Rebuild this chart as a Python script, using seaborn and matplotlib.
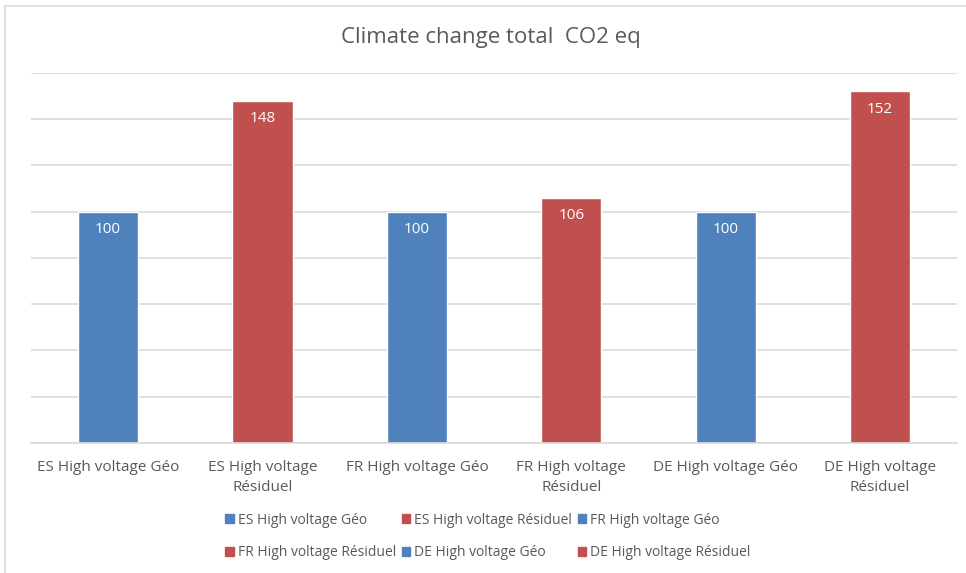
import matplotlib
matplotlib.use("Agg")
import matplotlib.pyplot as plt
import matplotlib.patches as mpatches
import seaborn as sns
import pandas as pd

categories = [
    "ES High voltage Géo",
    "ES High voltage Résiduel",
    "FR High voltage Géo",
    "FR High voltage Résiduel",
    "DE High voltage Géo",
    "DE High voltage Résiduel",
]
tick_labels = [
    "ES High voltage Géo",
    "ES High voltage\nRésiduel",
    "FR High voltage Géo",
    "FR High voltage\nRésiduel",
    "DE High voltage Géo",
    "DE High voltage\nRésiduel",
]
values = [100, 148, 100, 106, 100, 152]
colors = ["#4F81BD", "#C0504D", "#4F81BD", "#C0504D", "#4F81BD", "#C0504D"]

sns.set_theme(style="white")
plt.rcParams["font.family"] = ["Open Sans", "DejaVu Sans"]
text_color = "#595959"

df = pd.DataFrame({"category": categories, "value": values})

fig = plt.figure(figsize=(9.66, 5.73), dpi=100)
ax = fig.add_axes([0.032, 0.2269, 0.959, 0.6457])

sns.barplot(data=df, x="category", y="value", hue="category",
            palette=colors, order=categories, hue_order=categories,
            dodge=False, width=0.39, saturation=1, legend=False, ax=ax)

ax.set_ylim(0, 160)
ax.set_yticks(range(0, 161, 20))
ax.yaxis.grid(True, color="#D9D9D9", linewidth=1.2)
ax.set_axisbelow(True)
ax.set_yticklabels([])
ax.tick_params(axis="y", length=0)
ax.tick_params(axis="x", length=0, pad=12, labelsize=11, labelcolor=text_color)
ax.set_xticks(range(len(categories)))
ax.set_xticklabels(tick_labels)
for t in ax.get_xticklabels():
    t.set_linespacing(1.45)
ax.set_xlabel("")
ax.set_ylabel("")
for s in ["top", "right", "left"]:
    ax.spines[s].set_visible(False)
ax.spines["bottom"].set_color("#D9D9D9")
ax.spines["bottom"].set_linewidth(1.2)

for i, v in enumerate(values):
    ax.annotate(f"{v}", (i, v), xytext=(0, -13), textcoords="offset points",
                ha="center", va="center", color="white", fontsize=11)

fig.text(0.508, 0.935, "Climate change total  CO2 eq", ha="center", va="center",
         fontsize=16, color=text_color)

handles = [mpatches.Patch(color=c, label=l) for c, l in zip(colors, categories)]
order = [0, 3, 1, 4, 2, 5]
leg = fig.legend([handles[k] for k in order], [categories[k] for k in order],
                 ncol=3, loc="center", bbox_to_anchor=(0.505, 0.064),
                 frameon=False, fontsize=10, handlelength=0.6, handleheight=0.6,
                 handletextpad=0.3, columnspacing=0.4, labelspacing=1.25)
for t in leg.get_texts():
    t.set_color(text_color)

fig.patches.append(mpatches.Rectangle((0.005, -0.01), 1.2, 1.0, transform=fig.transFigure,
                                      fill=False, edgecolor="#D9D9D9", linewidth=1.2))

fig.savefig("out.png", dpi=100)
